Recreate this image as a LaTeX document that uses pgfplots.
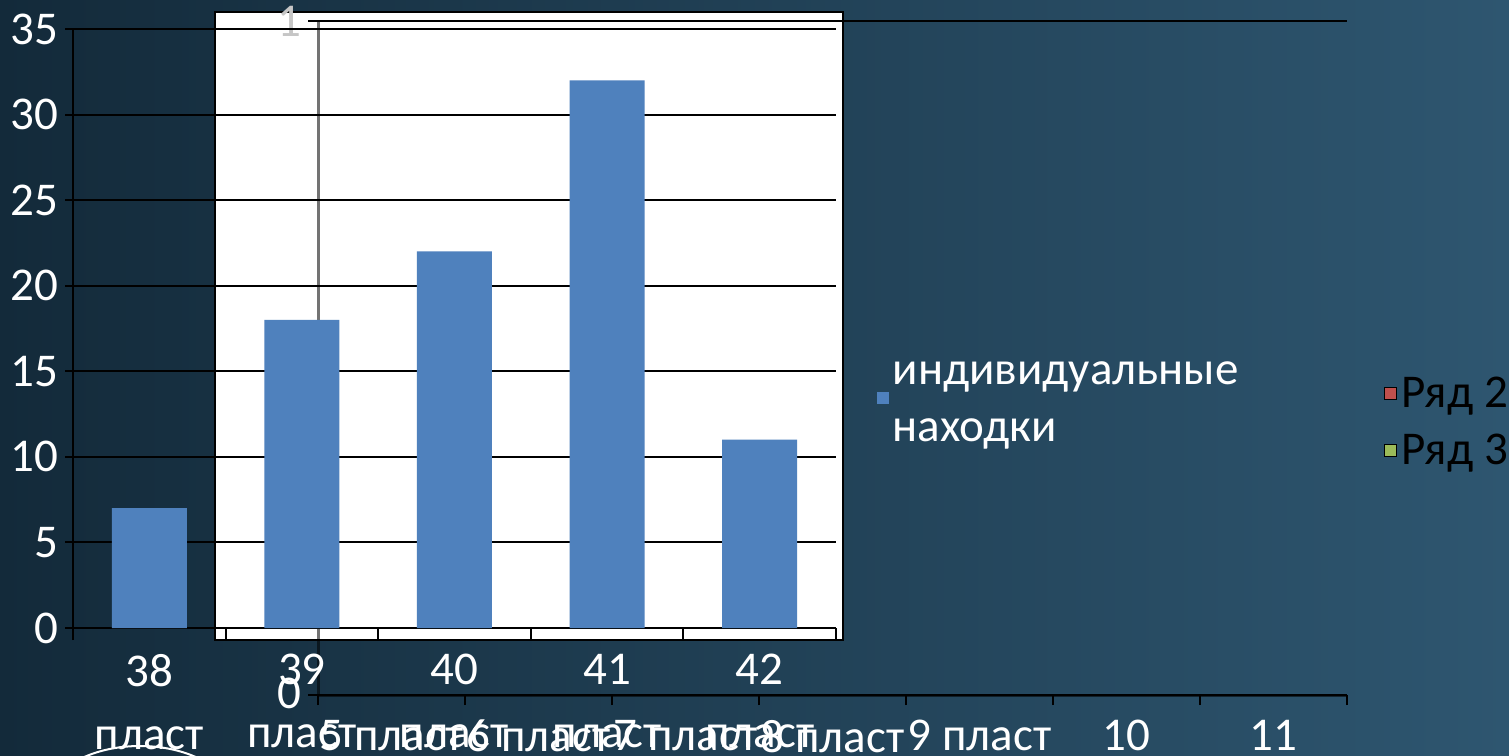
\documentclass[border=0pt]{standalone}
\usepackage{pgfplots}
\pgfplotsset{compat=1.18}
\usepackage{fontspec}
\setmainfont{Carlito}
\definecolor{bgL}{HTML}{132A3A}
\definecolor{bgR}{HTML}{2E5670}
\definecolor{barblue}{HTML}{4F81BD}
\definecolor{serred}{HTML}{C0504D}
\definecolor{sergreen}{HTML}{9BBB59}
\newcommand\fs{\fontsize{23.5}{31.5}\selectfont}
\tikzset{px/.style={x=0.5pt,y=-0.5pt}}

\begin{document}
\begin{tikzpicture}
% 1 px of the reference = 0.5pt, origin at the top left corner
\useasboundingbox (0pt,0pt) rectangle (754.5pt,-377.5pt);
\clip (0pt,0pt) rectangle (754.5pt,-377.5pt);
\begin{scope}[px]
\shade[left color=bgL, right color=bgR] (0,0) rectangle (1509,755);
\draw[white, line width=1pt] (140,800) ellipse (92 and 54);
\draw[black, line width=1pt, fill=white] (215,12) rectangle (843,640);
\end{scope}

% second (empty) chart behind the first one
\begin{axis}[
    at={(159pt,-347.5pt)}, anchor=south west,
    scale only axis, width=514.5pt, height=337pt,
    xmin=0, xmax=7, ymin=0, ymax=1,
    axis x line*=bottom, axis y line*=left,
    axis line style={black, opacity=0.55, line width=1.5pt},
    tick align=outside,
    xtick={0.5,1.5,...,6.5},
    xticklabels={5 пласт,6 пласт,7 пласт,8 пласт,9 пласт,10,11},
    xticklabel style={yshift=-4pt},
    major x tick style={draw=none},
    minor xtick={0,1,...,7},
    minor tick length=5pt,
    ytick={0,1},
    yticklabels={\raisebox{2pt}{0},\raisebox{-2pt}{\textcolor{gray!45}{1}}},
    major tick length=5pt,
    tick style={black, line width=1pt},
    ymajorgrids, grid style={black, line width=1pt},
    ticklabel style={font=\fs, text=white},
    /pgf/number format/assume math mode=true,
    legend image code/.code={\fill[#1] (0pt,-3pt) rectangle (6pt,3pt);},
    legend style={draw=none, fill=none, at={(1.03,0.405)}, anchor=west,
        font=\fs, text=black, row sep=7.5pt},
]
\addlegendimage{fill=serred}
\addlegendentry{Ряд 2}
\addlegendimage{fill=sergreen}
\addlegendentry{Ряд 3}
\end{axis}

% main chart
\begin{axis}[
    at={(36.5pt,-314pt)}, anchor=south west,
    scale only axis, width=381.5pt, height=299.5pt,
    xmin=37.5, xmax=42.5, ymin=0, ymax=35,
    axis x line*=bottom, axis y line*=left,
    axis line style={black, line width=1pt},
    tick align=outside,
    ybar, bar width=37.5pt,
    xtick={38,...,42},
    xticklabels={{38\\пласт},{39\\пласт},{40\\пласт},{41\\пласт},{42\\пласт}},
    xticklabel style={align=center, yshift=-5.5pt},
    major x tick style={draw=none},
    minor xtick={37.5,38.5,...,42.5},
    minor tick length=6pt,
    ytick={0,5,...,35},
    major tick length=4pt,
    tick style={black, line width=1pt},
    ymajorgrids, grid style={black, line width=1pt},
    ticklabel style={font=\fs, text=white},
    /pgf/number format/assume math mode=true,
    legend image code/.code={\fill[#1] (0pt,-0.5pt) rectangle (6pt,5.5pt);},
    legend style={draw=none, fill=none, at={(1.045,0.375)}, anchor=west,
        font=\fontsize{23.5}{28.5}\selectfont, text=white, cells={align=left}},
]
\addplot[fill=barblue, draw=none] coordinates {
    (38,7) (39,18) (40,22) (41,32) (42,11)
};
\addlegendentry{индивидуальные\\находки}
\end{axis}
\end{tikzpicture}
\end{document}
